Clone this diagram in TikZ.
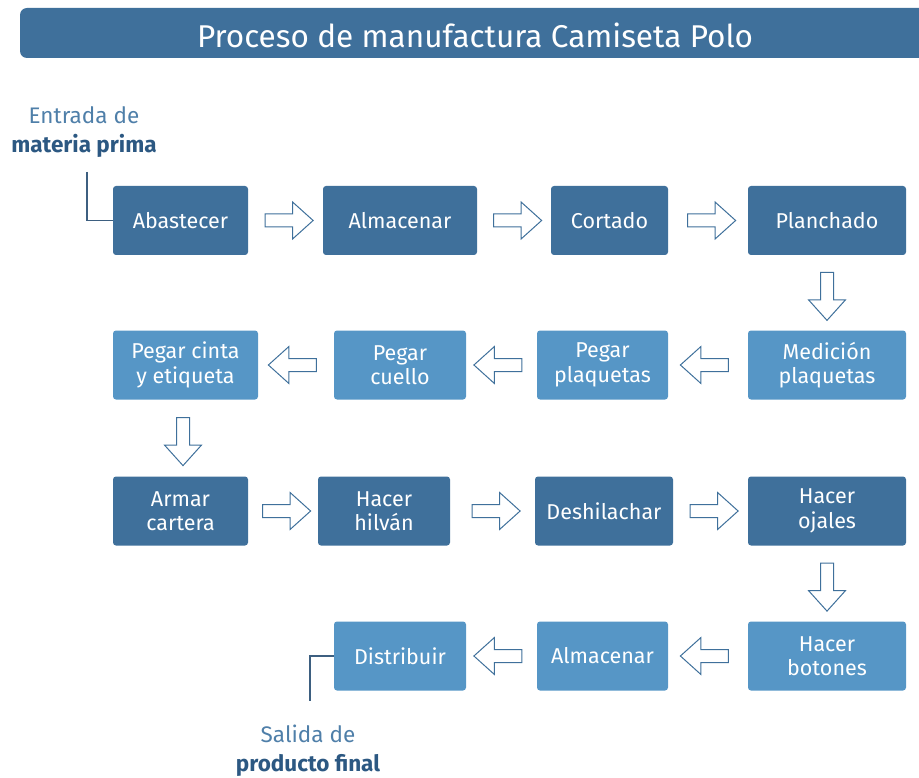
\documentclass[tikz,border=0pt]{standalone}
\usepackage{fontspec}
\setmainfont{Fira Sans}
\usetikzlibrary{shapes.arrows,calc}
\definecolor{azulosc}{HTML}{3F709B}
\definecolor{azulcla}{HTML}{5696C6}
\definecolor{azultxt}{HTML}{4F7FA9}
\definecolor{azulneg}{HTML}{2C5882}
\definecolor{linea}{HTML}{3D5F80}

\begin{document}
\begin{tikzpicture}[x=1pt,y=-1pt,
    paso/.style={rounded corners=3pt, text=white, align=center, inner sep=0pt,
        minimum height=69pt, font=\fontsize{21.5}{24.5}\selectfont},
    oscuro/.style={paso, fill=azulosc},
    claro/.style={paso, fill=azulcla},
    flecha/.style={single arrow, draw=azulosc, fill=white, line width=1pt,
        minimum height=48pt, minimum width=36pt, single arrow head extend=12pt,
        single arrow tip angle=84, inner xsep=0pt, inner ysep=6pt}
]
    \useasboundingbox (0,0) rectangle (919,778);

    % barra del titulo
    \begin{scope}
        \clip (0,0) rectangle (919,778);
        \fill[azulosc, rounded corners=7pt] (20,8) rectangle (940,58);
    \end{scope}
    \node[text=white, font=\fontsize{31.5}{36}\selectfont] (titulo) at (475,35)
        {Proceso de manufactura Camiseta Polo};

    % pasos
    \begin{scope}[every node/.style={}]
        \node[oscuro, minimum width=135pt] (aba) at (180.5,220.5) {Abastecer};
        \node[oscuro, minimum width=154pt] (alm1) at (400,220.5) {Almacenar};
        \node[oscuro, minimum width=117pt] (cor) at (609.5,220.5) {Cortado};
        \node[oscuro, minimum width=158pt] (pla) at (827,220.5) {Planchado};

        \node[claro, minimum width=158pt] (med) at (827,365) {Medición\\plaquetas};
        \node[claro, minimum width=131pt] (peqa) at (602.5,365) {Pegar\\plaquetas};
        \node[claro, minimum width=132pt] (pecu) at (400,365) {Pegar\\cuello};
        \node[claro, minimum width=145pt] (peci) at (185.5,365) {Pegar cinta\\y etiqueta};

        \node[oscuro, minimum width=135pt] (arm) at (180.5,511) {Armar\\cartera};
        \node[oscuro, minimum width=132pt] (hil) at (384,511) {Hacer\\hilván};
        \node[oscuro, minimum width=138pt] (des) at (604,511) {Deshilachar};
        \node[oscuro, minimum width=158pt] (oja) at (827,511) {Hacer\\ojales};

        \node[claro, minimum width=158pt] (bot) at (827,656) {Hacer\\botones};
        \node[claro, minimum width=131pt] (alm2) at (602.5,656) {Almacenar};
        \node[claro, minimum width=132pt] (dis) at (400,656) {Distribuir};
    \end{scope}

    % flechas
    \node[flecha] (f1) at ($(aba.east)!0.5!(alm1.west)$) {};
    \node[flecha] (f2) at ($(alm1.east)!0.5!(cor.west)$) {};
    \node[flecha] (f3) at ($(cor.east)!0.5!(pla.west)$) {};
    \node[flecha, rotate=-90] (f4) at ($(pla.south)!0.5!(med.north)$) {};
    \node[flecha, rotate=180] (f5) at ($(med.west)!0.5!(peqa.east)$) {};
    \node[flecha, rotate=180] (f6) at ($(peqa.west)!0.5!(pecu.east)$) {};
    \node[flecha, rotate=180] (f7) at ($(pecu.west)!0.5!(peci.east)$) {};
    \node[flecha, rotate=-90] (f8) at ($(peci.south)!0.5!(arm.north)$) {};
    \node[flecha] (f9) at ($(arm.east)!0.5!(hil.west)$) {};
    \node[flecha] (f10) at ($(hil.east)!0.5!(des.west)$) {};
    \node[flecha] (f11) at ($(des.east)!0.5!(oja.west)$) {};
    \node[flecha, rotate=-90] (f12) at ($(oja.south)!0.5!(bot.north)$) {};
    \node[flecha, rotate=180] (f13) at ($(bot.west)!0.5!(alm2.east)$) {};
    \node[flecha, rotate=180] (f14) at ($(alm2.west)!0.5!(dis.east)$) {};

    % entrada y salida
    \node[align=center, font=\fontsize{22.5}{29}\selectfont] (entrada) at (84,132)
        {\textcolor{azultxt}{Entrada de}\\\textcolor{azulneg}{\bfseries materia prima}};
    \node[align=center, font=\fontsize{22.5}{29}\selectfont] (salida) at (308,751)
        {\textcolor{azultxt}{Salida de}\\\textcolor{azulneg}{\bfseries producto final}};
    \coordinate (ent) at (87,172);
    \coordinate (sal) at (310,701);
    \draw[linea, line width=1.2pt] (ent) |- (aba.west);
    \draw[linea, line width=1.2pt] (dis.west) -| (sal);
\end{tikzpicture}
\end{document}
